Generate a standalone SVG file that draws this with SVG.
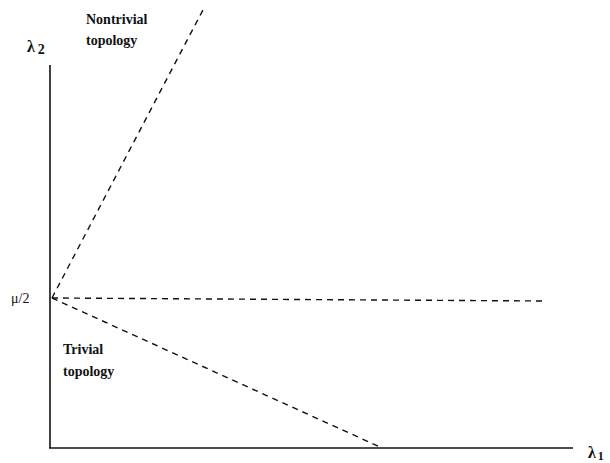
<svg xmlns="http://www.w3.org/2000/svg" width="610" height="463" viewBox="0 0 610 463">
<style>
text{font-family:"Liberation Serif",serif;fill:#111}
.lbl{font-size:14px;font-weight:bold}
.axis{stroke:#111;stroke-width:1.6;fill:none}
.dash{stroke:#111;stroke-width:1.4;stroke-dasharray:6,5;fill:none}
.sym{font-size:16px;font-weight:bold}
</style>
<rect width="610" height="463" fill="#fff"/>
<g id="connectors">
<line class="axis" x1="50" y1="65" x2="50" y2="448"/>
<line class="axis" x1="49" y1="448" x2="573" y2="448"/>
<line class="dash" x1="52" y1="298" x2="204" y2="8"/>
<line class="dash" x1="52" y1="298" x2="545" y2="301"/>
<line class="dash" x1="52" y1="298" x2="380" y2="447"/>
</g>
<g id="lambda2"><text class="sym" x="27" y="52">λ<tspan font-size="14" dx="3" dy="2">2</tspan></text></g>
<g id="lambda1"><text class="sym" x="588" y="458">λ<tspan font-size="12" dx="2" dy="2">1</tspan></text></g>
<g id="mu"><text x="11" y="303" font-size="14">μ/2</text></g>
<g id="nontrivial"><text class="lbl" x="86" y="24">Nontrivial</text><text class="lbl" x="86" y="45">topology</text></g>
<g id="trivial"><text class="lbl" x="63" y="354">Trivial</text><text class="lbl" x="63" y="376">topology</text></g>
</svg>
